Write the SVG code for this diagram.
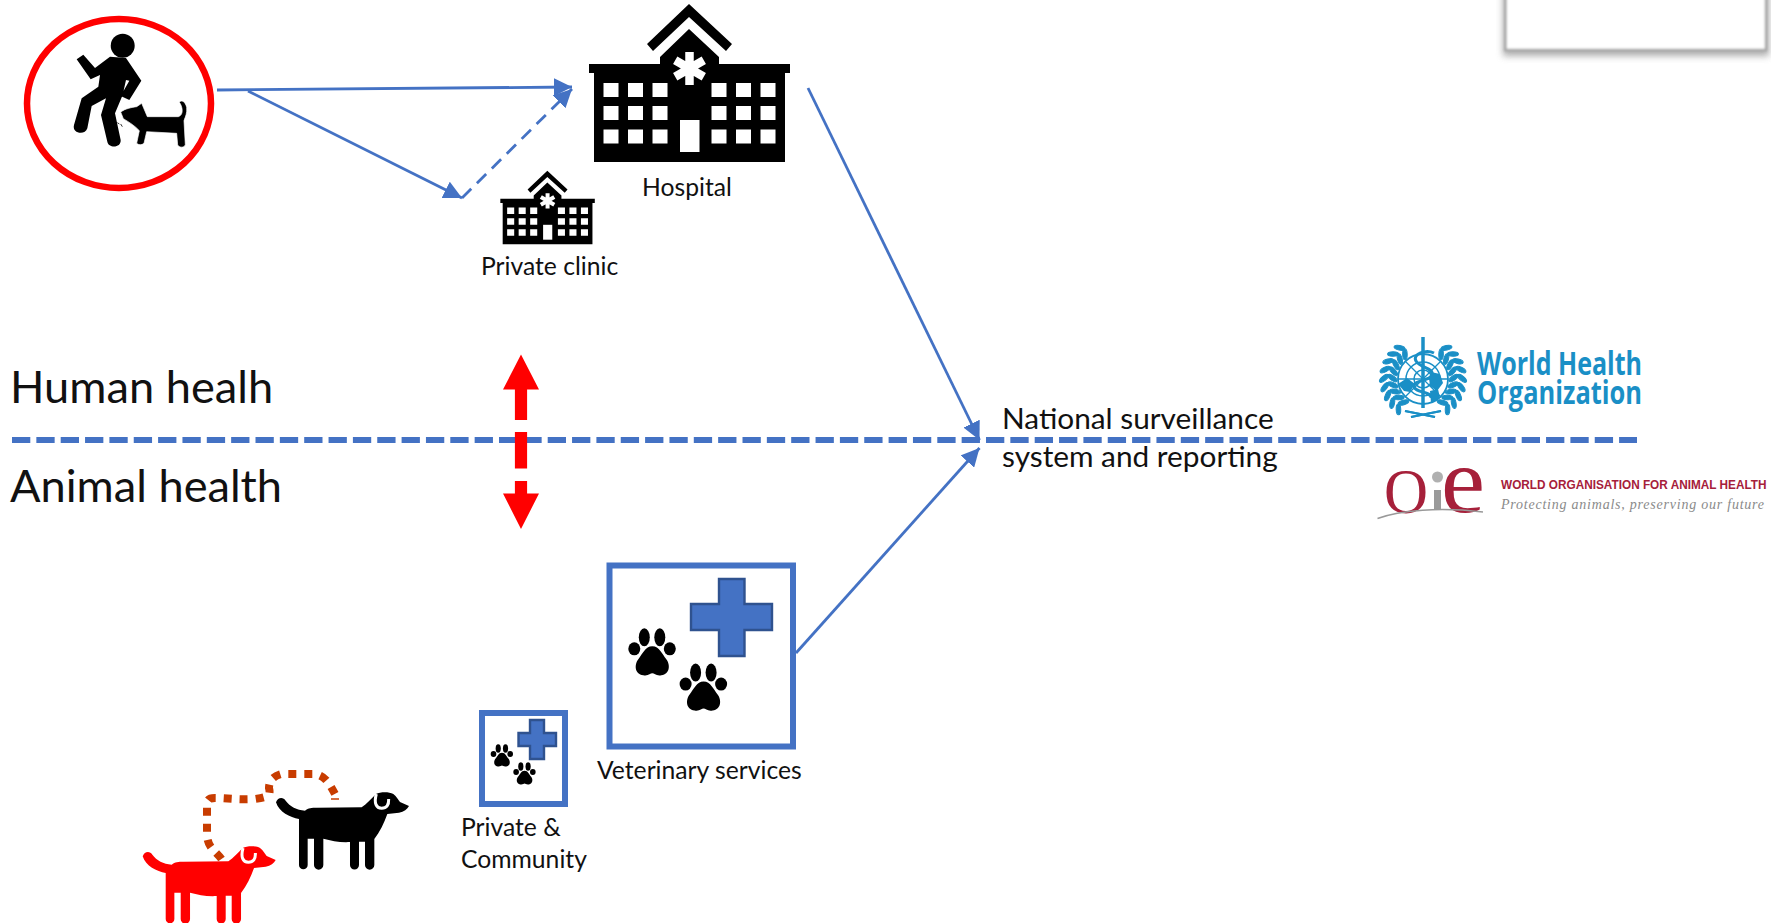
<svg xmlns="http://www.w3.org/2000/svg" width="1771" height="923" viewBox="0 0 1771 923">
<style>
text{font-family:"Lato","Open Sans","Liberation Sans",sans-serif;fill:#111}
.lbl{font-size:24.7px}
.big{font-size:45.200px}
.nat{font-size:29.800px}
.conn{fill:none;stroke:#4472C4;stroke-width:2.800}
.box{fill:#fff;stroke:#4472C4;stroke-width:6}
.cross{fill:#4472C4;stroke:#2F528F;stroke-width:2.400}
.whot{font-family:"Open Sans","Liberation Sans",sans-serif;font-size:32px;font-weight:700;fill:#1a8fc6;stroke:none}
.oier{font-family:"Liberation Serif",serif;fill:#a6203a}
</style>
<defs>
<marker id="ah" viewBox="0 0 10 10" refX="10" refY="5" markerWidth="6.500" markerHeight="6.500" orient="auto"><path d="M0 0L10 5L0 10Z" fill="#4472C4"/></marker>
<filter id="sh" x="-5%" y="-40%" width="110%" height="190%"><feGaussianBlur stdDeviation="3.500"/></filter>
<filter id="soft" x="-2%" y="-10%" width="104%" height="120%"><feGaussianBlur stdDeviation=".8"/></filter>
<g id="hosp">
<path d="M689 4L732 44L726 51L689 17L653 51L647 44Z"/>
<path d="M689 29L719 57V64H790V73H785V162H594V73H589V64H660V57Z"/>
<g fill="#fff">
<path d="M603.500 83h15v14h-15zM628 83h15v14h-15zM652.500 83h15v14h-15zM711.500 83h15v14h-15zM736 83h15v14h-15zM760.500 83h15v14h-15zM603.500 106h15v14h-15zM628 106h15v14h-15zM652.500 106h15v14h-15zM711.500 106h15v14h-15zM736 106h15v14h-15zM760.500 106h15v14h-15zM603.500 129.500h15v14h-15zM628 129.500h15v14h-15zM652.500 129.500h15v14h-15zM711.500 129.500h15v14h-15zM736 129.500h15v14h-15zM760.500 129.500h15v14h-15z"/>
<rect x="680" y="120" width="19.500" height="32"/>
</g>
<path d="M689.500 52V85M675.200 60.200L703.800 76.800M675.200 76.800L703.800 60.200" stroke="#fff" stroke-width="8.500" fill="none"/>
</g>
<g id="paw">
<ellipse cx="6" cy="20.500" rx="6" ry="6.500"/><ellipse cx="16" cy="9" rx="5.500" ry="9"/><ellipse cx="31.500" cy="9" rx="5.500" ry="9"/><ellipse cx="41.500" cy="20.500" rx="6" ry="6.500"/>
<path d="M24 18C31 18 34 26 38 31C42 36 42 46 33 47C28 48 26 45 24 45C22 45 20 48 15 47C6 46 6 36 10 31C14 26 17 18 24 18Z"/>
</g>
<g id="dog">
<path d="M438 307C443 291 460 290 467 302C480 320 500 330 525 332C535 323 545 323 560 323L695 322C710 312 725 295 738 282C750 276 775 274 790 282C800 290 805 300 810 306L837 318C832 328 822 335 807 338L772 342C762 370 750 395 733 417L733 495A13.500 13.500 0 0 1 705 495L705 425L687 425L687 495A13.500 13.500 0 0 1 660 495L660 426C630 428 605 422 580 416L580 495A14 14 0 0 1 552 495L552 416L533 416L533 495A13 13 0 0 1 507 495L507 357C480 352 447 337 438 307Z"/>
<path d="M739 282C731 310 739 325 755 325C770 325 777 315 776 297" fill="none" stroke="#fff" stroke-width="9"/>
</g>
<g id="leaf" fill="#1a8fc6">
<ellipse cx="1384" cy="377" rx="5.500" ry="2.300" transform="rotate(-38 1384 377)"/>
<ellipse cx="1392.500" cy="377" rx="5.500" ry="2.300" transform="rotate(38 1392.500 377)"/>
</g>
<g id="wreath">
<use href="#leaf" transform="rotate(50 1423 379)"/>
<use href="#leaf" transform="rotate(37 1423 379)"/>
<use href="#leaf" transform="rotate(24 1423 379)"/>
<use href="#leaf" transform="rotate(11 1423 379)"/>
<use href="#leaf" transform="rotate(-2 1423 379)"/>
<use href="#leaf" transform="rotate(-15 1423 379)"/>
<use href="#leaf" transform="rotate(-28 1423 379)"/>
<use href="#leaf" transform="rotate(-41 1423 379)"/>
<use href="#leaf" transform="rotate(-54 1423 379)"/>
<path d="M1411 417L1441 411M1435 417L1405 411" stroke="#1a8fc6" stroke-width="2" fill="none"/>
</g>
</defs>
<rect width="1771" height="923" fill="#fff"/>

<g id="note-box">
<rect x="1503" y="-8" width="266" height="64" fill="#777" opacity=".6" filter="url(#sh)"/>
<rect x="1505.500" y="-8" width="260.500" height="58" fill="#fff" stroke="#a8a8a8" stroke-width="2.500" filter="url(#soft)"/>
<path d="M1505 50H1766.500" stroke="#8f8f8f" stroke-width="2.500" filter="url(#soft)"/>
</g>

<g id="connectors">
<path class="conn" d="M217 90L572 87" marker-end="url(#ah)"/>
<path class="conn" d="M248 91L462 198" marker-end="url(#ah)"/>
<path class="conn" d="M462 198L572 89" stroke-dasharray="13 8" marker-end="url(#ah)"/>
<path class="conn" d="M808 88L979.500 440" marker-end="url(#ah)"/>
<path class="conn" d="M796 653L979.500 448" marker-end="url(#ah)"/>
<path d="M12 440H1637" fill="none" stroke="#4472C4" stroke-width="6" stroke-dasharray="18.300 6.050"/>
<path d="M521 354.500L539 389.500H527.100V420H514.900V389.500H503ZM514.900 432H527.100V468.500H514.900ZM514.900 481H527.100V493.500H539L521 529L503 493.500H514.900Z" fill="#f00"/>
</g>

<g id="bite-victim">
<ellipse cx="119" cy="103.500" rx="92" ry="84.500" fill="#fff" stroke="#f00" stroke-width="6.500"/>
<circle cx="122.700" cy="45.700" r="12"/>
<g transform="scale(.33333)">
<path d="M230 178L250 164L285 204L330 170L378 174L424 242L388 300L362 288L388 242L378 240L368 285L345 340L362 420C364 445 325 445 322 425L303 345L318 295L275 318L262 385C255 408 215 400 222 375L245 295L295 260L300 225L272 238Z"/>
<path d="M362 336C375 326 395 322 410 320L425 310L442 350L535 350C552 345 548 320 538 307C545 298 556 305 560 322C562 340 556 350 552 362L556 435C550 445 536 442 533 435L530 400L440 395L432 430C425 436 415 435 410 430L418 392C405 378 390 368 370 356Z" stroke="#fff" stroke-width="2"/>
<path d="M352 368l6 4M362 372l5 8" stroke="#333" stroke-width="3"/>
</g>
</g>

<g id="hospital">
<use href="#hosp"/>
<text class="lbl" x="642" y="195.500">Hospital</text>
</g>

<g id="private-clinic">
<use href="#hosp" transform="translate(223.500 169) scale(.47 .465)"/>
<text class="lbl" x="481" y="274.500">Private clinic</text>
</g>

<g id="veterinary-services">
<rect class="box" x="609.500" y="565.500" width="183.500" height="181"/>
<path class="cross" d="M719 579H744.500V604H772V630H744.500V656H719V630H691V604H719Z"/>
<use href="#paw" x="628.300" y="628.300"/>
<use href="#paw" x="679.600" y="663.600"/>
<text class="lbl" x="597" y="778.500">Veterinary services</text>
</g>

<g id="private-community">
<rect class="box" x="482" y="713" width="83" height="91"/>
<path class="cross" d="M530 720H544V733H556V746H544V759H530V746H518.500V733H530Z"/>
<use href="#paw" transform="translate(490.700 744.300) scale(.47)"/>
<use href="#paw" transform="translate(513.300 762.300) scale(.47)"/>
<text class="lbl" x="461" y="835.500">Private &amp;</text>
<text class="lbl" x="461" y="867.500">Community</text>
</g>

<g id="dogs">
<use href="#dog" transform="translate(130 700) scale(.33333)"/>
<use href="#dog" transform="translate(-3.300 754) scale(.33333)" fill="#f00"/>
<path d="M221.500 859C215 850 207 848 207 833V806C207 800 208 798 215 798C225 798 238 800 255 799C268 797 271 796 269 788C269 780 274 776 281 774H313C325 774 330 785 335 794" fill="none" stroke="#C83C00" stroke-width="8" stroke-dasharray="8 8"/>
<path d="M331 799H339" stroke="#C83C00" stroke-width="1.500"/>
</g>

<g id="labels">
<text class="big" x="10" y="403">Human healh</text>
<text class="big" x="10" y="502">Animal health</text>
<text class="nat" x="1002" y="429">National surveillance</text>
<text class="nat" x="1002" y="467">system and reporting</text>
</g>

<g id="who-logo" fill="none" stroke="#1a8fc6">
<use href="#wreath"/>
<use href="#wreath" transform="translate(2846 0) scale(-1 1)"/>
<circle cx="1423" cy="379" r="25" stroke-width="1.800"/>
<circle cx="1423" cy="379" r="17" stroke-width="1.500"/>
<circle cx="1423" cy="379" r="9" stroke-width="1.500"/>
<path d="M1398 379H1448M1423 354V404M1405 361L1441 397M1441 361L1405 397" stroke-width="1.300"/>
<path d="M1423 337V408" stroke-width="3.500"/>
<path d="M1434 353C1426 349 1412 354 1416 361C1420 368 1434 368 1432 375C1430 381 1414 380 1414 386C1414 393 1432 391 1431 398" stroke-width="3"/>
<path d="M1398 384l9-6 8 6-5 8-6-1zM1431 372l9 2 3 9-6 8-7-5-1-8zM1430 391l8-2 2 9-9 5z" fill="#1a8fc6" stroke="none"/>
<text class="whot" x="1477" y="374.500" textLength="165" lengthAdjust="spacingAndGlyphs">World Health</text>
<text class="whot" x="1477" y="403.500" textLength="165" lengthAdjust="spacingAndGlyphs">Organization</text>
</g>

<g id="oie-logo">
<text class="oier" x="1384" y="512.500" font-size="64" textLength="44" lengthAdjust="spacingAndGlyphs">O</text>
<text class="oier" x="1441" y="512" font-size="93" textLength="44" lengthAdjust="spacingAndGlyphs">e</text>
<rect x="1434" y="490" width="7" height="20" fill="#9a9a9a"/>
<circle cx="1437.500" cy="477" r="5.500" fill="#b0b0b0"/>
<path d="M1377.500 518.500C1400 510 1440 507 1483 512" fill="none" stroke="#999" stroke-width="1.500"/>
<text x="1501" y="489" font-size="12" font-weight="700" textLength="265.500" lengthAdjust="spacingAndGlyphs" style="font-family:'Liberation Sans',sans-serif;fill:#a6203a">WORLD ORGANISATION FOR ANIMAL HEALTH</text>
<text x="1501" y="509" font-size="14" font-style="italic" textLength="263" lengthAdjust="spacing" style="font-family:'Liberation Serif',serif;fill:#8a8a8a">Protecting animals, preserving our future</text>
</g>
</svg>
